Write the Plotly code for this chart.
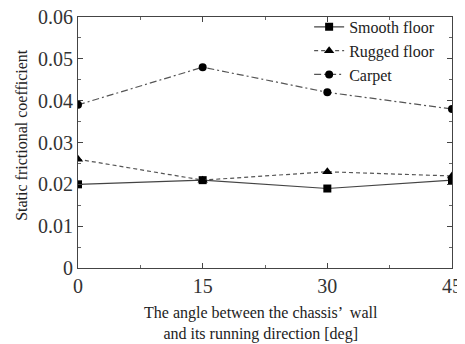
import plotly.graph_objects as go

angles = [0, 15, 30, 45]
smooth = [0.020, 0.021, 0.019, 0.021]
rugged = [0.026, 0.021, 0.023, 0.022]
carpet = [0.039, 0.048, 0.042, 0.038]
x_ticks = [0, 15, 30, 45]
y_ticks = [0, 0.01, 0.02, 0.03, 0.04, 0.05, 0.06]
y_tick_labels = ["0", "0.01", "0.02", "0.03", "0.04", "0.05", "0.06"]

FONT = "Liberation Serif, Times New Roman, serif"
fig = go.Figure()
fig.add_trace(go.Scatter(x=angles, y=smooth, name="Smooth floor", mode="lines+markers",
                         line=dict(color="#444", width=1.2, dash="solid"),
                         marker=dict(symbol="square", size=8, color="black")))
fig.add_trace(go.Scatter(x=angles, y=rugged, name="Rugged floor", mode="lines+markers",
                         line=dict(color="#555", width=1.2, dash="4px,3px"),
                         marker=dict(symbol="triangle-up", size=9, color="black")))
fig.add_trace(go.Scatter(x=angles, y=carpet, name="Carpet", mode="lines+markers",
                         line=dict(color="#555", width=1.2, dash="7px,3px,2px,3px"),
                         marker=dict(symbol="circle", size=8, color="black")))

axis_common = dict(showgrid=False, zeroline=False, showline=True, linecolor="#444",
                   linewidth=1.2, mirror="ticks", ticks="inside", ticklen=5,
                   tickcolor="#444", automargin=False, ticklabeloverflow="allow",
                   tickfont=dict(family=FONT, size=20, color="#333"))
fig.update_xaxes(range=[0, 45], tickvals=x_ticks, **axis_common,
                 minor=dict(dtick=7.5, ticks="inside", ticklen=3, tickcolor="#666"))
fig.update_yaxes(range=[0, 0.06], tickvals=y_ticks, ticktext=y_tick_labels, **axis_common,
                 minor=dict(dtick=0.005, ticks="inside", ticklen=3, tickcolor="#666"))
fig.add_annotation(text="The angle between the chassis’  wall<br>and its running direction [deg]",
                   xref="paper", yref="paper", x=0.49, y=-0.135, xanchor="center", yanchor="top",
                   showarrow=False, font=dict(family=FONT, size=16, color="#222"))
fig.add_annotation(text="Static frictional coefficient", textangle=-90,
                   xref="paper", yref="paper", x=-0.15, y=0.53, xanchor="center", yanchor="middle",
                   showarrow=False, font=dict(family=FONT, size=16, color="#222"))
# the page body has an 8px margin, so the figure is shrunk and shifted accordingly
fig.update_layout(width=457, height=336, margin=dict(l=70, r=13, t=9, b=76, autoexpand=False),
                  plot_bgcolor="white", paper_bgcolor="white", showlegend=True,
                  legend=dict(x=0.618, y=1.028, xanchor="left", yanchor="top",
                              bgcolor="rgba(0,0,0,0)", font=dict(family=FONT, size=16, color="#222"),
                              tracegroupgap=0, itemwidth=30))
fig.write_html("out.html")
